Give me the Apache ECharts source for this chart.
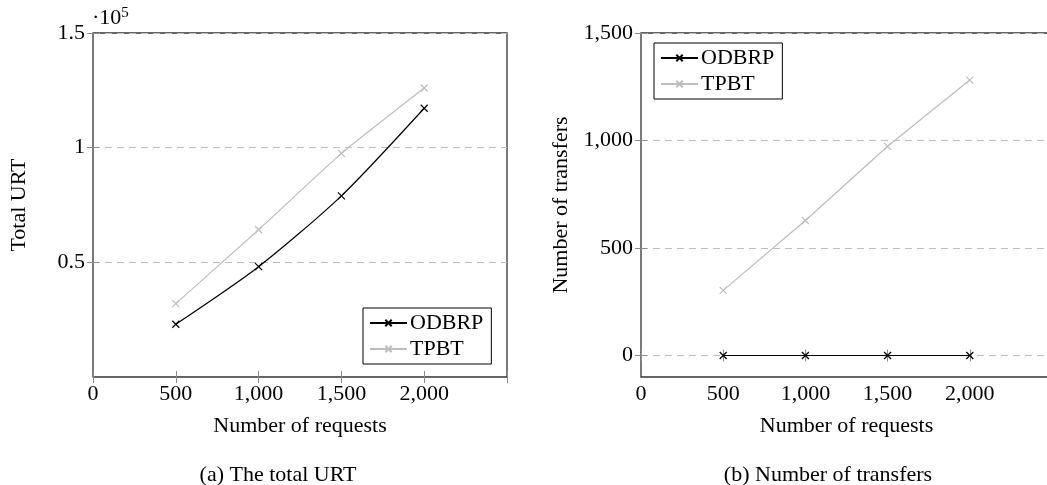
<!DOCTYPE html>
<html>
<head>
<meta charset="utf-8">
<script src="https://cdn.jsdelivr.net/npm/echarts@6/dist/echarts.min.js"></script>
<style>
  html, body { margin: 0; padding: 0; background: #fff; overflow: hidden; width: 1047px; height: 485px; }
  .echarts { position: absolute; top: 0; height: 485px; }
  #chartA { left: 0; width: 523px; }
  #chartB { left: 523px; width: 545px; }
</style>
</head>
<body>
<div id="chartA" class="echarts"></div>
<div id="chartB" class="echarts"></div>
<script>
// data
const requests = [500, 1000, 1500, 2000];
const urtOdbrp = [23000, 48100, 79000, 117200];
const urtTpbt = [32000, 64200, 97500, 126000];
const transfersOdbrp = [0, 0, 0, 0];
const transfersTpbt = [303, 628, 973, 1281];
const urtTicks = [50000, 100000, 150000];
const transferTicks = [0, 500, 1000, 1500];

const FONT = "Liberation Serif";
const FS = 22;
const CROSS = "path://M0,0L10,10M10,0L0,10";

function pairs(xs, ys) {
  return xs.map((x, i) => [x, ys[i]]);
}

function lineSeries(name, color, data, smooth) {
  return {
    name: name,
    type: "line",
    data: data,
    smooth: smooth,
    symbol: CROSS,
    symbolSize: 7,
    lineStyle: { color: color, width: 1.2 },
    itemStyle: { color: "rgba(0,0,0,0)", borderColor: color, borderWidth: 1.2 },
    emphasis: { disabled: true },
    xAxisIndex: 0,
    yAxisIndex: 0,
  };
}

function fmtNum(v) {
  return v.toLocaleString("en-US");
}

function buildOption(cfg) {
  const tick = { show: true, inside: true, length: 6, lineStyle: { color: "#8c8c8c", width: 1 } };
  const xBase = {
    type: "value",
    min: 0,
    max: 2500,
    interval: 500,
    axisLine: { show: false },
    splitLine: { show: false },
  };
  const yBase = {
    type: "value",
    min: cfg.yMin,
    max: cfg.yMax,
    axisLine: { show: false },
  };
  return {
    animation: false,
    textStyle: { fontFamily: FONT, color: "#000" },
    title: {
      text: cfg.caption,
      left: cfg.captionX,
      top: 459,
      textAlign: "center",
      textStyle: { fontFamily: FONT, fontSize: FS, fontWeight: "normal", color: "#000" },
    },
    grid: {
      left: cfg.gridLeft,
      top: 33,
      width: cfg.gridWidth,
      height: 344,
      show: true,
      borderColor: "#333",
      borderWidth: 1.3,
      backgroundColor: "transparent",
    },
    legend: {
      orient: "vertical",
      left: cfg.legendLeft,
      top: cfg.legendTop,
      data: ["ODBRP", "TPBT"],
      itemWidth: 37,
      itemHeight: 8,
      itemGap: 4,
      padding: [4, 8, 4, 6],
      borderColor: "#000",
      borderWidth: 1,
      borderRadius: 0,
      backgroundColor: "#fff",
      selectedMode: false,
      textStyle: { fontFamily: FONT, fontSize: FS, color: "#000", padding: [0, 0, 0, -2] },
    },
    xAxis: [
      Object.assign({}, xBase, {
        position: "bottom",
        name: "Number of requests",
        nameLocation: "middle",
        nameGap: 38,
        nameTextStyle: { fontFamily: FONT, fontSize: FS, color: "#000" },
        axisTick: tick,
        axisLabel: {
          fontFamily: FONT,
          fontSize: FS,
          color: "#000",
          margin: 6,
          formatter: (v) => (v === 2500 ? "" : fmtNum(v)),
        },
      }),
      Object.assign({}, xBase, {
        position: "top",
        axisTick: tick,
        axisLabel: { show: false },
      }),
    ],
    yAxis: [
      Object.assign({}, yBase, {
        position: "left",
        name: cfg.yName,
        nameLocation: "middle",
        nameGap: 63,
        nameTextStyle: { fontFamily: FONT, fontSize: FS, color: "#000" },
        axisTick: Object.assign({}, tick, { customValues: cfg.yTicks }),
        axisLabel: {
          fontFamily: FONT,
          fontSize: FS,
          color: "#000",
          margin: 8,
          customValues: cfg.yTicks,
          formatter: cfg.yFormat,
        },
        splitLine: {
          show: true,
          lineStyle: { color: "#bdbdbd", width: 1, type: [7, 5] },
        },
      }),
      Object.assign({}, yBase, {
        position: "right",
        axisTick: Object.assign({}, tick, { customValues: cfg.yTicks }),
        axisLabel: { show: false },
        splitLine: { show: false },
      }),
    ],
    graphic: cfg.graphic || [],
    series: cfg.series,
  };
}

const chartA = echarts.init(document.getElementById("chartA"));
chartA.setOption(
  buildOption({
    caption: "(a) The total URT",
    captionX: 273,
    gridLeft: 92,
    gridWidth: 415,
    yMin: 0,
    yMax: 150000,
    yTicks: urtTicks,
    yName: "Total URT",
    yFormat: (v) => String(v / 100000),
    legendLeft: 363,
    legendTop: 308,
    graphic: [
      {
        type: "text",
        left: 92,
        top: 6,
        style: {
          text: "·10{sup|5}",
          fontFamily: FONT,
          fontSize: FS,
          fill: "#000",
          rich: { sup: { fontFamily: FONT, fontSize: 15, verticalAlign: "top", padding: [0, 0, 10, 0] } },
        },
      },
    ],
    series: [
      lineSeries("ODBRP", "#000", pairs(requests, urtOdbrp), 0.25),
      lineSeries("TPBT", "#bdbdbd", pairs(requests, urtTpbt), 0.15),
    ],
  })
);

const chartB = echarts.init(document.getElementById("chartB"));
chartB.setOption(
  buildOption({
    caption: "(b) Number of transfers",
    captionX: 300,
    gridLeft: 118,
    gridWidth: 411,
    yMin: -100,
    yMax: 1500,
    yTicks: transferTicks,
    yName: "Number of transfers",
    yFormat: (v) => fmtNum(v),
    legendLeft: 131,
    legendTop: 43,
    series: [
      lineSeries("ODBRP", "#000", pairs(requests, transfersOdbrp), false),
      lineSeries("TPBT", "#bdbdbd", pairs(requests, transfersTpbt), false),
    ],
  })
);
</script>
</body>
</html>
